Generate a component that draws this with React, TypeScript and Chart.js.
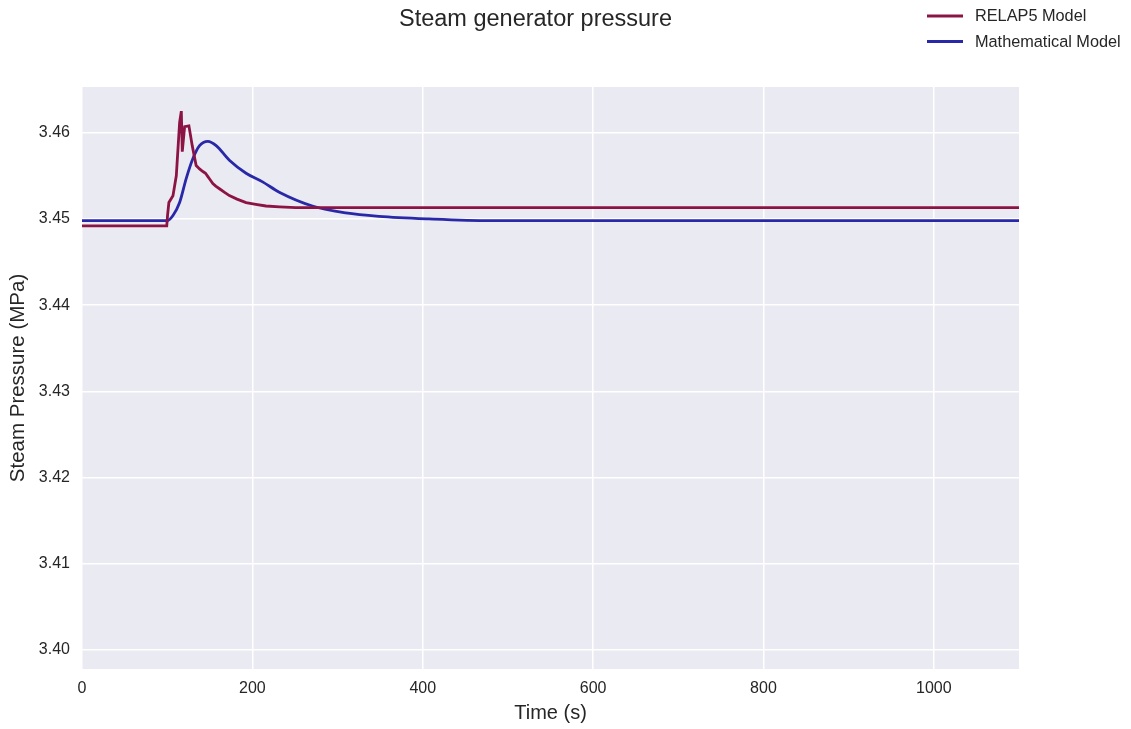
import React, { useEffect, useRef } from "react";
import { Chart, registerables } from "chart.js";

Chart.register(...registerables);

const chartTitle = "Steam generator pressure";
const xAxisTitle = "Time (s)";
const yAxisTitle = "Steam Pressure (MPa)";
const seriesNames = ["RELAP5 Model", "Mathematical Model"];
const seriesColors = ["#8C1444", "#2828A8"];

const relapTime = [0, 99.5, 100.5, 102, 106.8, 110.7, 114.6, 116.6, 117.7, 120.5, 125.5, 129.4, 134, 138, 141.9, 145, 147.8, 150, 153.6, 157, 161.4, 167, 173, 182, 192.6, 204, 216, 232, 251, 300, 400, 600, 800, 1100];
const relapPressure = [3.4492, 3.4492, 3.4505, 3.4519, 3.4527, 3.455, 3.4612, 3.4625, 3.4578, 3.4607, 3.4608, 3.4585, 3.4562, 3.4558, 3.4555, 3.4553, 3.4549, 3.4546, 3.4541, 3.4538, 3.4535, 3.4531, 3.4527, 3.4523, 3.4519, 3.4517, 3.4515, 3.4514, 3.4513, 3.4513, 3.4513, 3.4513, 3.4513, 3.4513];

const mathTime = [0, 100, 106.8, 114.6, 122.4, 130.2, 138, 147.8, 157.5, 173, 192.6, 212, 231.6, 270.5, 309.6, 348.5, 407, 480, 600, 800, 1100];
const mathPressure = [3.4498, 3.4498, 3.4504, 3.4519, 3.4547, 3.457, 3.4585, 3.459, 3.4585, 3.4568, 3.4553, 3.4543, 3.4531, 3.4515, 3.4507, 3.4503, 3.45, 3.4498, 3.4498, 3.4498, 3.4498];

const xMin = 0;
const xMax = 1100;
const xStep = 200;
const yMin = 3.3978;
const yMax = 3.4653;
const yStep = 0.01;

const FONT = "'Liberation Sans', Arial, 'DejaVu Sans', sans-serif";
const TEXT = "#262626";

const bgPlugin = {
  id: "bgPlugin",
  beforeDraw(chart: any) {
    const { ctx, chartArea } = chart;
    ctx.save();
    ctx.fillStyle = "#ffffff";
    ctx.fillRect(0, 0, chart.width, chart.height);
    ctx.fillStyle = "#EAEAF2";
    ctx.fillRect(chartArea.left, chartArea.top, chartArea.right - chartArea.left, chartArea.bottom - chartArea.top);
    ctx.restore();
  },
};

const legendPlugin = {
  id: "figLegend",
  afterDraw(chart: any) {
    const { ctx } = chart;
    ctx.save();
    ctx.font = `16.3px ${FONT}`;
    ctx.textBaseline = "middle";
    ctx.textAlign = "left";
    chart.data.datasets.forEach((ds: any, i: number) => {
      const y = 16 + i * 25.5;
      ctx.strokeStyle = ds.borderColor;
      ctx.lineWidth = 3;
      ctx.beginPath();
      ctx.moveTo(927, y);
      ctx.lineTo(963, y);
      ctx.stroke();
      ctx.fillStyle = TEXT;
      ctx.fillText(ds.label, 975, y + 1);
    });
    ctx.restore();
  },
};

export default function App() {
  const ref = useRef<HTMLCanvasElement | null>(null);

  useEffect(() => {
    document.body.style.margin = "0";
    if (!ref.current) return;
    const chart = new Chart(ref.current, {
      type: "line",
      data: {
        datasets: [
          {
            label: seriesNames[0],
            data: relapTime.map((t, i) => ({ x: t, y: relapPressure[i] })),
            borderColor: seriesColors[0],
            backgroundColor: seriesColors[0],
            borderWidth: 2.8,
            pointRadius: 0,
            tension: 0,
            yAxisID: "y",
          },
          {
            label: seriesNames[1],
            data: mathTime.map((t, i) => ({ x: t, y: mathPressure[i] })),
            borderColor: seriesColors[1],
            backgroundColor: seriesColors[1],
            borderWidth: 2.8,
            pointRadius: 0,
            cubicInterpolationMode: "monotone",
            yAxisID: "y",
          },
        ],
      },
      options: {
        responsive: false,
        animation: false,
        layout: { padding: { left: 0, right: 60, top: 0, bottom: 0 } },
        plugins: {
          legend: { display: false },
          tooltip: { enabled: false },
          title: {
            display: true,
            text: chartTitle,
            color: TEXT,
            font: { family: FONT, size: 23.5, weight: "normal" },
            padding: { top: 5, bottom: 53.8 },
          },
        },
        scales: {
          x: {
            type: "linear",
            min: xMin,
            max: xMax,
            border: { display: false },
            grid: { color: "#ffffff", lineWidth: 1.5, drawTicks: false },
            ticks: {
              stepSize: xStep,
              includeBounds: false,
              color: TEXT,
              padding: 10,
              maxRotation: 0,
              font: { family: FONT, size: 16 },
              callback: (v: any) => String(Math.round(Number(v))),
            },
            title: {
              display: true,
              text: xAxisTitle,
              color: TEXT,
              font: { family: FONT, size: 20 },
              padding: { top: 4, bottom: 4 },
            },
            afterFit: (s: any) => {
              s.height = 60;
            },
          },
          y: {
            type: "linear",
            position: "left",
            min: yMin,
            max: yMax,
            border: { display: false },
            grid: { color: "#ffffff", lineWidth: 1.5, drawTicks: false },
            ticks: {
              stepSize: yStep,
              includeBounds: false,
              color: TEXT,
              padding: 12,
              font: { family: FONT, size: 16 },
              callback: (v: any) => Number(v).toFixed(2),
            },
            title: {
              display: true,
              text: yAxisTitle,
              color: TEXT,
              font: { family: FONT, size: 20.5 },
              padding: { top: 6.5, bottom: 6.5 },
            },
            afterFit: (s: any) => {
              s.width = 82;
            },
          },
          yRight: {
            type: "linear",
            position: "right",
            min: yMin,
            max: yMax,
            border: { display: false },
            grid: { display: false, drawTicks: false },
            ticks: { display: false },
            afterFit: (s: any) => {
              s.width = 52;
            },
          },
        },
      },
      plugins: [bgPlugin, legendPlugin],
    });
    return () => chart.destroy();
  }, []);

  return (
    <div style={{ width: 1131, height: 729 }}>
      <canvas ref={ref} width={1131} height={729} style={{ display: "block" }} />
    </div>
  );
}
